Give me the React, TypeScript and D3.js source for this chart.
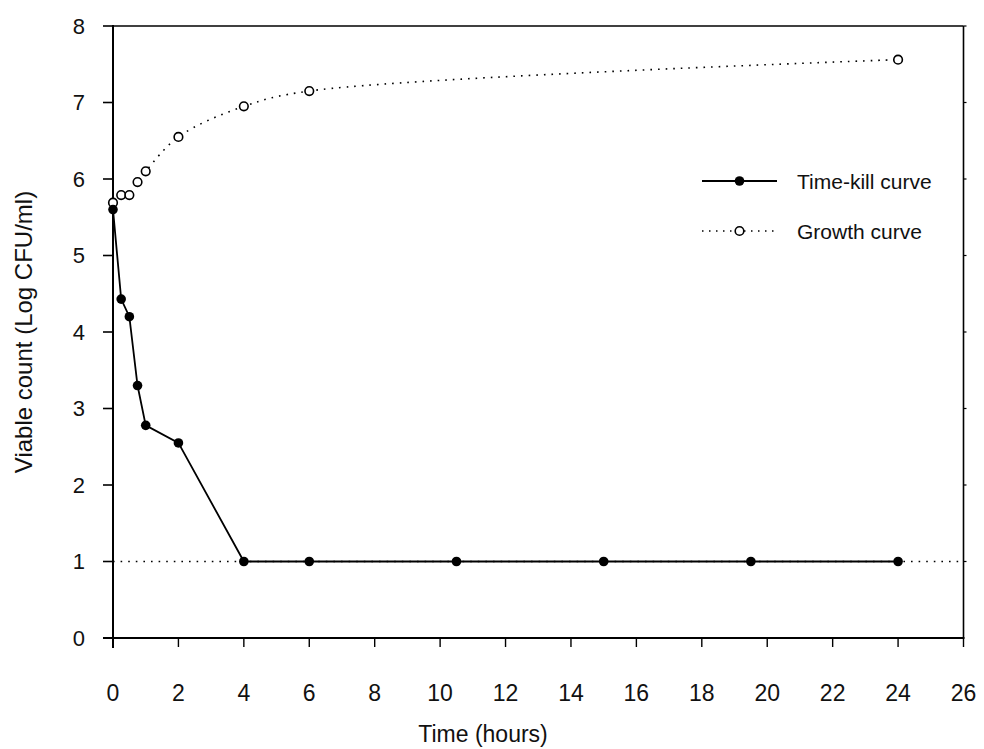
import { useEffect, useRef } from 'react';
import * as d3 from 'd3';

// time (hours) and log CFU/ml
const killTimes = [0, 0.25, 0.5, 0.75, 1, 2, 4, 6, 10.5, 15, 19.5, 24];
const killValues = [5.6, 4.43, 4.2, 3.3, 2.78, 2.55, 1, 1, 1, 1, 1, 1];

const growthTimes = [0, 0.25, 0.5, 0.75, 1, 2, 4, 6, 24];
const growthValues = [5.69, 5.79, 5.79, 5.96, 6.1, 6.55, 6.95, 7.15, 7.56];

const xTicks = [0, 2, 4, 6, 8, 10, 12, 14, 16, 18, 20, 22, 24, 26];
const yTicks = [0, 1, 2, 3, 4, 5, 6, 7, 8];
const detectionLimit = 1;

const legendItems = [
  { label: 'Time-kill curve', dotted: false, filled: true },
  { label: 'Growth curve', dotted: true, filled: false },
];

const FONT = '"Liberation Sans", Arial, Helvetica, sans-serif';

const App = () => {
  const svgRef = useRef<SVGSVGElement>(null);

  useEffect(() => {
    document.body.style.margin = '0';
    if (!svgRef.current) return;

    const width = 984;
    const height = 749;
    const svg = d3.select(svgRef.current);
    svg.selectAll('*').remove();
    svg.attr('width', width).attr('height', height);

    svg.append('rect').attr('width', width).attr('height', height).attr('fill', '#fff');

    const x = d3.scaleLinear().domain([0, 26]).range([113, 963.5]);
    const y = d3.scaleLinear().domain([0, 8]).range([638, 26]);

    // frame: top and right
    svg.append('line')
      .attr('x1', x(0)).attr('x2', x(26))
      .attr('y1', y(8)).attr('y2', y(8))
      .attr('stroke', '#000').attr('stroke-width', 1.6);
    svg.append('line')
      .attr('x1', x(26)).attr('x2', x(26))
      .attr('y1', y(8)).attr('y2', y(0))
      .attr('stroke', '#000').attr('stroke-width', 1.6);

    // small outside ticks on the right edge
    svg.append('g')
      .selectAll('line')
      .data(yTicks.slice(1))
      .join('line')
      .attr('x1', x(26)).attr('x2', x(26) + 3)
      .attr('y1', d => y(d)).attr('y2', d => y(d))
      .attr('stroke', '#000').attr('stroke-width', 1.2);

    // Y axis
    svg.append('line')
      .attr('x1', x(0)).attr('x2', x(0))
      .attr('y1', y(8) - 1).attr('y2', y(0) + 10)
      .attr('stroke', '#000').attr('stroke-width', 2);
    svg.append('g')
      .selectAll('line')
      .data(yTicks)
      .join('line')
      .attr('x1', x(0) - 10).attr('x2', x(0))
      .attr('y1', d => y(d)).attr('y2', d => y(d))
      .attr('stroke', '#000').attr('stroke-width', 1.6);
    svg.append('g')
      .selectAll('text')
      .data(yTicks)
      .join('text')
      .attr('x', 85)
      .attr('y', d => y(d))
      .attr('dy', '0.36em')
      .attr('text-anchor', 'end')
      .attr('font-family', FONT)
      .attr('font-size', '22px')
      .attr('fill', '#111')
      .text(d => d);

    // X axis
    svg.append('line')
      .attr('x1', x(0) - 10).attr('x2', x(26) + 1)
      .attr('y1', y(0)).attr('y2', y(0))
      .attr('stroke', '#000').attr('stroke-width', 2);
    svg.append('g')
      .selectAll('line')
      .data(xTicks)
      .join('line')
      .attr('x1', d => x(d)).attr('x2', d => x(d))
      .attr('y1', y(0)).attr('y2', y(0) + 9)
      .attr('stroke', '#000').attr('stroke-width', 1.4);
    svg.append('g')
      .selectAll('text')
      .data(xTicks)
      .join('text')
      .attr('x', d => x(d))
      .attr('y', 701)
      .attr('text-anchor', 'middle')
      .attr('font-family', FONT)
      .attr('font-size', '23px')
      .attr('fill', '#111')
      .text(d => d);

    // Axis titles
    svg.append('text')
      .attr('x', 483)
      .attr('y', 742)
      .attr('text-anchor', 'middle')
      .attr('font-family', FONT)
      .attr('font-size', '23px')
      .attr('fill', '#111')
      .text('Time (hours)');

    svg.append('text')
      .attr('transform', `translate(32,${(y(0) + y(8)) / 2}) rotate(-90)`)
      .attr('text-anchor', 'middle')
      .attr('font-family', FONT)
      .attr('font-size', '24px')
      .attr('fill', '#111')
      .text('Viable count (Log CFU/ml)');

    // detection limit, dotted across the plot
    svg.append('line')
      .attr('x1', x(0)).attr('x2', x(26))
      .attr('y1', y(detectionLimit)).attr('y2', y(detectionLimit))
      .attr('stroke', '#000').attr('stroke-width', 1.6)
      .attr('stroke-dasharray', '1.6,6');

    // Growth curve (dotted, smoothed)
    const growth = growthTimes.map((t, i) => [t, growthValues[i]] as [number, number]);
    const growthLine = d3.line<[number, number]>()
      .x(d => x(d[0]))
      .y(d => y(d[1]))
      .curve(d3.curveCatmullRom.alpha(0.5));
    svg.append('path')
      .attr('d', growthLine(growth))
      .attr('fill', 'none')
      .attr('stroke', '#000')
      .attr('stroke-width', 1.6)
      .attr('stroke-dasharray', '1.6,6');

    // Time-kill curve
    const kill = killTimes.map((t, i) => [t, killValues[i]] as [number, number]);
    const killLine = d3.line<[number, number]>()
      .x(d => x(d[0]))
      .y(d => y(d[1]));
    svg.append('path')
      .attr('d', killLine(kill))
      .attr('fill', 'none')
      .attr('stroke', '#000')
      .attr('stroke-width', 1.8);

    svg.append('g')
      .selectAll('circle')
      .data(growth)
      .join('circle')
      .attr('cx', d => x(d[0]))
      .attr('cy', d => y(d[1]))
      .attr('r', 4.3)
      .attr('fill', '#fff')
      .attr('stroke', '#000')
      .attr('stroke-width', 1.6);

    svg.append('g')
      .selectAll('circle')
      .data(kill)
      .join('circle')
      .attr('cx', d => x(d[0]))
      .attr('cy', d => y(d[1]))
      .attr('r', 4.8)
      .attr('fill', '#000');

    // Legend
    const legend = svg.append('g').attr('transform', 'translate(702,181)');
    legendItems.forEach((item, i) => {
      const row = legend.append('g').attr('transform', `translate(0,${i * 50})`);
      row.append('line')
        .attr('x1', 0).attr('x2', 75)
        .attr('y1', 0).attr('y2', 0)
        .attr('stroke', '#000')
        .attr('stroke-width', item.dotted ? 1.4 : 1.8)
        .attr('stroke-dasharray', item.dotted ? '1.5,5.5' : null);
      row.append('circle')
        .attr('cx', 37.5).attr('cy', 0)
        .attr('r', item.filled ? 4.8 : 4.3)
        .attr('fill', item.filled ? '#000' : '#fff')
        .attr('stroke', '#000')
        .attr('stroke-width', item.filled ? 0 : 1.6);
      row.append('text')
        .attr('x', 95)
        .attr('y', 0)
        .attr('dy', '0.36em')
        .attr('font-family', FONT)
        .attr('font-size', '21px')
        .attr('fill', '#111')
        .text(item.label);
    });
  }, []);

  return <svg ref={svgRef} style={{ display: 'block' }} />;
};

export default App;
